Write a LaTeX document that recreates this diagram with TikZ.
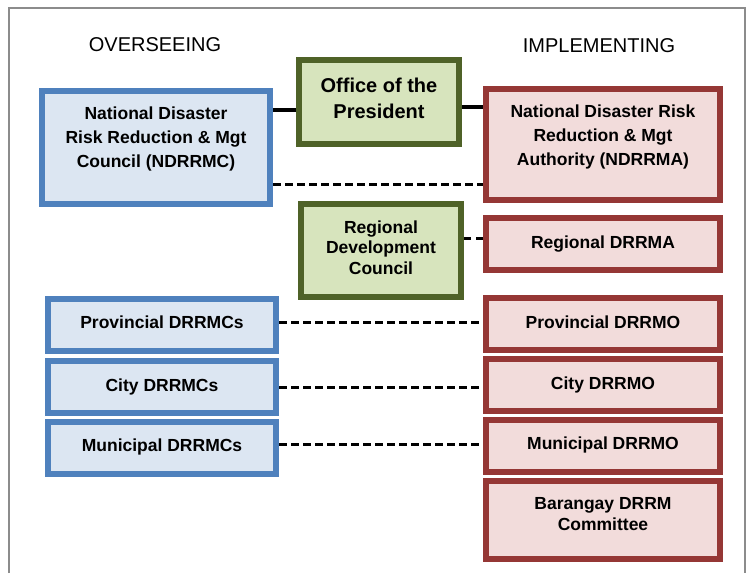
\documentclass[tikz,border=0pt]{standalone}
\usepackage{fontspec}
\setmainfont{Liberation Sans}
\definecolor{ovblue}{HTML}{4F81BD}
\definecolor{ovfill}{HTML}{DCE6F2}
\definecolor{imred}{HTML}{953735}
\definecolor{imfill}{HTML}{F2DCDB}
\definecolor{ofgreen}{HTML}{4F6228}
\definecolor{offill}{HTML}{D7E4BD}
\begin{document}
\begin{tikzpicture}[x=1pt,y=-1pt,
	box/.style={draw,line width=6pt,inner sep=0pt,align=center,font=\bfseries\fontsize{17.5}{24}\selectfont},
	oversee/.style={box,draw=ovblue,fill=ovfill,minimum width=228pt,minimum height=52pt},
	implement/.style={box,draw=imred,fill=imfill,minimum width=234pt,minimum height=52pt},
	office/.style={box,draw=ofgreen,fill=offill,minimum width=160pt},
	heading/.style={font=\fontsize{20}{24}\selectfont},
	link/.style={line width=4.5pt},
	peer/.style={line width=3pt,dash pattern=on 7.5pt off 4.5pt}]
	\useasboundingbox (0,0) rectangle (747,573);
	\draw[black!45,line width=1.5pt] (9,573) -- (9,8) -- (745,8) -- (745,573);
	
	\node[heading] (ovhead) at (155,45) {OVERSEEING};
	\node[heading] (imhead) at (599,46) {IMPLEMENTING};
	
	% overseeing side
	\node[oversee,minimum height=113pt] (ndrrmc) at (156,147.5) {National Disaster\\Risk Reduction \& Mgt\\Council (NDRRMC)\\[-3pt]\mbox{}};
	\node[oversee] (prov) at (162,325) {Provincial DRRMCs\\[-18pt]\mbox{}};
	\node[oversee] (city) at (162,387) {City DRRMCs\\[-20pt]\mbox{}};
	\node[oversee] (muni) at (162,448) {Municipal DRRMCs\\[-18pt]\mbox{}};
	
	% middle
	\node[office,minimum height=84pt,font=\bfseries\fontsize{20}{26}\selectfont] (op) at (379,102) {Office of the\\President\\[-18pt]\mbox{}};
	\node[office,minimum height=93pt,font=\bfseries\fontsize{17.5}{20.5}\selectfont] (rdc) at (381,250.5) {Regional\\Development\\Council\\[-14pt]\mbox{}};
	
	% implementing side
	\node[implement,minimum height=111pt] (ndrrma) at (603,144.5) {National Disaster Risk\\Reduction \& Mgt\\Authority (NDRRMA)\\[-6pt]\mbox{}};
	\node[implement] (rdrrma) at (603,244) {Regional DRRMA\\[-20pt]\mbox{}};
	\node[implement] (provo) at (603,324) {Provincial DRRMO\\[-20pt]\mbox{}};
	\node[implement] (cityo) at (603,385) {City DRRMO\\[-20pt]\mbox{}};
	\node[implement] (munio) at (603,445.5) {Municipal DRRMO\\[-20pt]\mbox{}};
	\node[implement,minimum height=78pt,font=\bfseries\fontsize{17.5}{21}\selectfont] (brgy) at (603,520) {Barangay DRRM\\Committee\\[-8pt]\mbox{}};
	
	\draw[link] ([yshift=-8pt]op.west) -- ([yshift=-8pt]op.west -| ndrrmc.east);
	\draw[link] ([yshift=-5pt]op.east) -- ([yshift=-5pt]op.east -| ndrrma.west);
	
	\draw[peer] ([yshift=-36.5pt]ndrrmc.east) -- ([yshift=-36.5pt]ndrrmc.east -| ndrrma.west);
	\draw[peer] ([yshift=6pt]rdrrma.west) -- ([yshift=6pt]rdrrma.west -| rdc.east);
	\draw[peer] ([yshift=3pt]prov.east) -- ([yshift=3pt]prov.east -| provo.west);
	\draw[peer] (city.east) -- (city.east -| cityo.west);
	\draw[peer] ([yshift=4pt]muni.east) -- ([yshift=4pt]muni.east -| munio.west);
	
\end{tikzpicture}
\end{document}
